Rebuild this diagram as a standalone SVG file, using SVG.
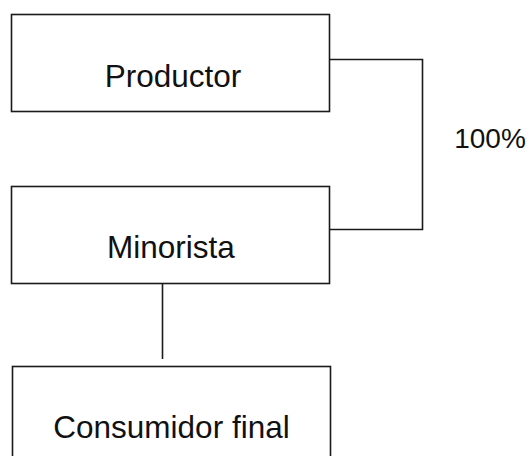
<svg xmlns="http://www.w3.org/2000/svg" width="529" height="456" viewBox="0 0 529 456">
<style>
.box{fill:#fff;stroke:#1a1a1a;stroke-width:1.6}
.lbl{font-family:"Liberation Sans",Arial,sans-serif;font-size:31.5px;fill:#111;text-anchor:middle}
.con{fill:none;stroke:#1a1a1a;stroke-width:1.6}
</style>
<rect width="529" height="456" fill="#fff"/>
<g id="productor"><rect class="box" x="11.5" y="14.5" width="318" height="97"/><text class="lbl" x="173" y="87">Productor</text></g>
<g id="minorista"><rect class="box" x="11.5" y="186.5" width="318" height="97"/><text class="lbl" x="171" y="258">Minorista</text></g>
<g id="consumidor"><rect class="box" x="12.5" y="366.5" width="318" height="100"/><text class="lbl" x="171.5" y="438">Consumidor final</text></g>
<g id="connectors">
<polyline class="con" points="329.5,59.5 422.5,59.5 422.5,229.5 329.5,229.5"/>
<line class="con" x1="162.5" y1="284" x2="162.5" y2="359"/>
<text class="lbl" x="490" y="148" style="font-size:28px">100%</text>
</g>
</svg>
